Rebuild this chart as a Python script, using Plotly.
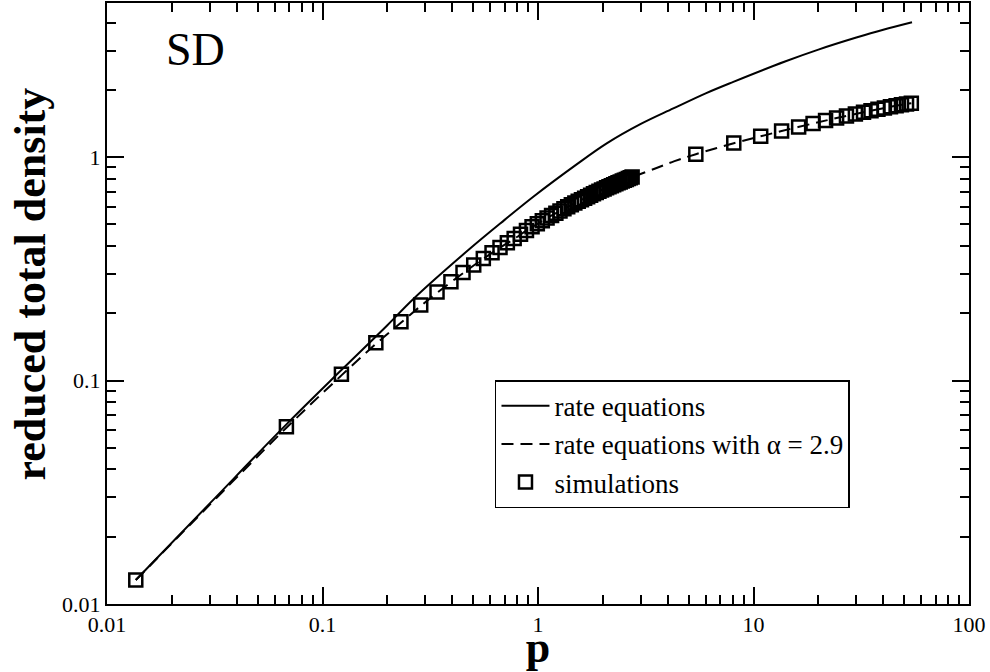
import plotly.graph_objects as go

# ---- data ----
sim_p = [0.0136, 0.068, 0.1224, 0.1768, 0.2312, 0.2856, 0.34, 0.3944, 0.4488, 0.5032,
         0.5576, 0.612, 0.6664, 0.7208, 0.7752, 0.8296, 0.884, 0.9384, 0.9928, 1.0472,
         1.1016, 1.156, 1.2104, 1.2648, 1.3192, 1.3736, 1.428, 1.4824, 1.5368, 1.5912,
         1.6456, 1.7, 1.7544, 1.8088, 1.8632, 1.9176, 1.972, 2.0264, 2.0808, 2.1352,
         2.1896, 2.244, 2.2984, 2.3528, 2.4072, 2.4616, 2.516, 2.5704, 2.6248, 2.6792,
         2.7336,
         5.4, 8.1, 10.8, 13.5, 16.2, 18.9, 21.6, 24.3, 27.0, 29.7,
         32.4, 35.1, 37.8, 40.5, 43.2, 45.9, 48.6, 51.3, 54.0]
sim_density = [0.0128, 0.0621, 0.1068, 0.1476, 0.1833, 0.2177, 0.2489, 0.2768, 0.3049, 0.3287,
               0.352, 0.373, 0.394, 0.414, 0.433, 0.452, 0.470, 0.488, 0.504, 0.519,
               0.5336, 0.5479, 0.5616, 0.5748, 0.5875, 0.5998, 0.6117, 0.6232, 0.6343, 0.6451,
               0.6555, 0.6657, 0.6755, 0.6851, 0.6945, 0.7035, 0.7123, 0.7209, 0.7292, 0.7373,
               0.7451, 0.7528, 0.7603, 0.7676, 0.7748, 0.7817, 0.7885, 0.7952, 0.8017, 0.8081,
               0.8142,
               1.031, 1.158, 1.239, 1.309, 1.366, 1.415, 1.458, 1.496, 1.530, 1.561,
               1.589, 1.614, 1.638, 1.660, 1.680, 1.699, 1.716, 1.731, 1.745]

rate_p = [0.0136, 0.03, 0.068, 0.123, 0.2, 0.264, 0.484, 0.7, 0.951, 1.5,
          2.084, 3.0, 4.245, 6.0, 8.06, 14.0, 20.0, 30.0, 40.0, 54.4]
rate_density = [0.0128, 0.0282, 0.0637, 0.112, 0.177, 0.232, 0.390, 0.524, 0.665, 0.923,
                1.152, 1.408, 1.652, 1.931, 2.173, 2.68, 3.03, 3.43, 3.72, 4.02]

alpha_p = [0.0136, 0.068, 0.1224, 0.177, 0.231, 0.286, 0.34, 0.45, 0.558, 0.666,
           0.775, 0.884, 0.993, 1.2, 1.5, 1.8, 2.1, 2.4, 2.73, 3.5,
           4.3, 5.4, 8.1, 10.8, 13.5, 18.9, 24.3, 32.4, 40.5, 48.6, 54.0]
alpha_density = [0.0128, 0.0615, 0.1055, 0.146, 0.1815, 0.216, 0.247, 0.303, 0.351, 0.393,
                 0.431, 0.469, 0.503, 0.559, 0.626, 0.683, 0.732, 0.773, 0.813, 0.89,
                 0.96, 1.031, 1.155, 1.24, 1.309, 1.415, 1.496, 1.589, 1.66, 1.716, 1.745]

x_ticks = [0.01, 0.1, 1, 10, 100]
x_ticktext = ["0.01", "0.1", "1", "10", "100"]
y_ticks = [0.01, 0.1, 1]
y_ticktext = ["0.01", "0.1", "1"]

FONT = "Liberation Serif"

fig = go.Figure()
fig.add_trace(go.Scatter(x=rate_p, y=rate_density, mode="lines", name="rate equations",
                         line=dict(color="black", width=2, shape="spline", smoothing=1.0)))
fig.add_trace(go.Scatter(x=alpha_p, y=alpha_density, mode="lines",
                         name="rate equations with α = 2.9",
                         line=dict(color="black", width=2, dash="12px,7px",
                                   shape="spline", smoothing=1.0)))
fig.add_trace(go.Scatter(x=sim_p, y=sim_density, mode="markers", name="simulations",
                         marker=dict(symbol="square-open", size=13, color="black",
                                     line=dict(color="black", width=2.5))))

axis_common = dict(
    type="log", showline=True, linewidth=2, linecolor="black", mirror="ticks",
    ticks="inside", ticklen=17, tickwidth=1.5, tickcolor="black",
    showgrid=False, zeroline=False, automargin=False,
    tickfont=dict(family=FONT, size=22, color="black"),
    minor=dict(ticks="inside", ticklen=9, tickwidth=1.5, tickcolor="black",
               dtick="D1", showgrid=False),
)

fig.update_xaxes(range=[-2, 2], tickvals=x_ticks, ticktext=x_ticktext,
                 title=dict(text="p", font=dict(family=FONT, size=44, color="black",
                                                weight="bold"), standoff=3),
                 **axis_common)
fig.update_yaxes(range=[-2, 0.69], tickvals=y_ticks, ticktext=y_ticktext,
                 **axis_common)

# y-axis title (placed as a rotated annotation to match the reference position)
fig.add_annotation(text="reduced total density", xref="paper", yref="paper",
                   x=-0.0882, y=0.5333, xanchor="center", yanchor="middle",
                   textangle=-90, showarrow=False,
                   font=dict(family=FONT, size=44, color="black", weight="bold"))

fig.add_annotation(text="SD", xref="paper", yref="paper", x=0.1032, y=0.9218,
                   xanchor="center", yanchor="middle", showarrow=False,
                   font=dict(family=FONT, size=46, color="black"))

fig.update_layout(
    width=990, height=672,
    margin=dict(l=107, r=21, t=3, b=68),
    plot_bgcolor="white", paper_bgcolor="white",
    font=dict(family=FONT, size=22, color="black"),
    legend=dict(x=0.4501, y=0.3722, xanchor="left", yanchor="top",
                bordercolor="black", borderwidth=1.5, bgcolor="white",
                font=dict(family=FONT, size=27, color="black"),
                itemwidth=48, tracegroupgap=0),
)

fig.write_html("out.html", config={"displayModeBar": False},
               post_script="document.body.style.margin='0';document.body.style.padding='0';")
